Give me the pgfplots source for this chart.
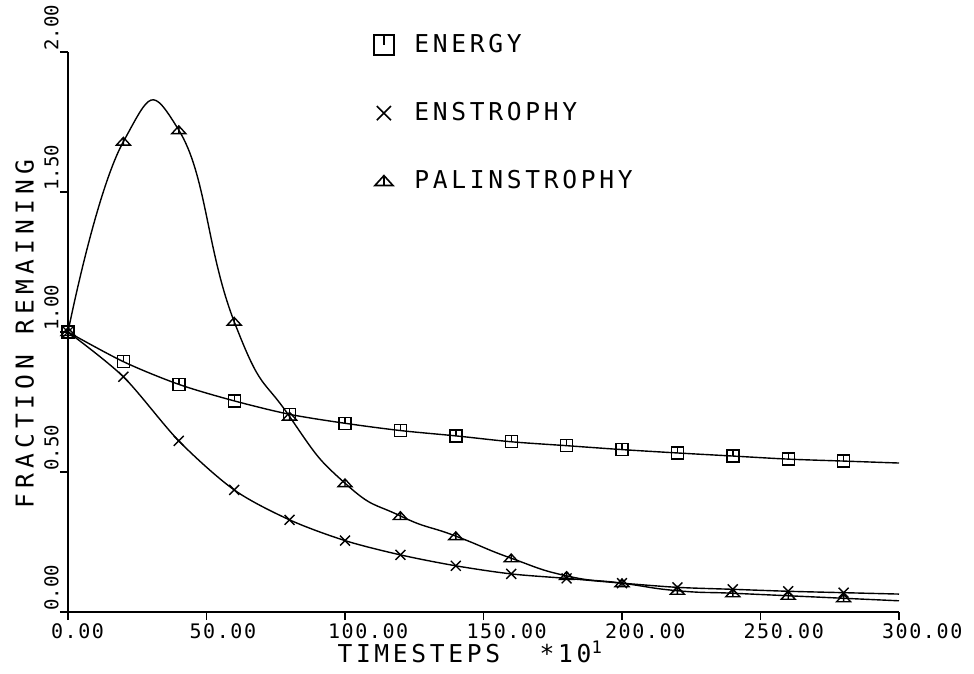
\documentclass[border=0pt]{standalone}
\usepackage{fontspec}
\setmainfont{DejaVu Sans Mono}
\newfontfamily\labfont[LetterSpace=15]{DejaVu Sans Mono}
\newfontfamily\ylabfont[LetterSpace=21]{DejaVu Sans Mono}
\newfontfamily\tickfont[LetterSpace=8]{DejaVu Sans Mono}
\usepackage{pgfplots}
\pgfplotsset{compat=1.18}

% plotter style marks: square / triangle with a small vertical stroke
\pgfdeclareplotmark{sqtick}{%
  \pgfpathrectangle{\pgfpoint{-\pgfplotmarksize}{-\pgfplotmarksize}}{\pgfpoint{2\pgfplotmarksize}{2\pgfplotmarksize}}%
  \pgfpathmoveto{\pgfpoint{0pt}{\pgfplotmarksize}}%
  \pgfpathlineto{\pgfpoint{0pt}{0pt}}%
  \pgfusepathqstroke}
\pgfdeclareplotmark{tritick}{%
  \pgfpathmoveto{\pgfpoint{-\pgfplotmarksize}{-0.5\pgfplotmarksize}}%
  \pgfpathlineto{\pgfpoint{\pgfplotmarksize}{-0.5\pgfplotmarksize}}%
  \pgfpathlineto{\pgfpoint{0pt}{0.6\pgfplotmarksize}}%
  \pgfpathclose
  \pgfpathmoveto{\pgfpoint{0pt}{0.6\pgfplotmarksize}}%
  \pgfpathlineto{\pgfpoint{0pt}{-0.5\pgfplotmarksize}}%
  \pgfusepathqstroke}

\pgfplotstableread{
x     y
0     1.000
20    0.894
40    0.813
60    0.754
80    0.706
100   0.674
120   0.648
140   0.629
160   0.608
180   0.594
200   0.580
220   0.568
240   0.557
260   0.546
280   0.539
300   0.532
}\energy

\pgfplotstableread{
x     y
0     1.000
20    0.840
40    0.611
60    0.436
80    0.329
100   0.255
120   0.204
140   0.165
160   0.136
180   0.120
200   0.103
220   0.088
240   0.081
260   0.074
280   0.069
300   0.064
}\enstrophy

\pgfplotstableread{
x     y
0     1.000
20    1.680
40    1.721
60    1.037
80    0.698
100   0.460
120   0.343
140   0.271
160   0.192
180   0.129
200   0.103
220   0.076
240   0.067
260   0.058
280   0.049
300   0.040
}\palin

\begin{document}
\begin{tikzpicture}
\begin{axis}[
  scale only axis, width=415.5pt, height=280pt,
  xmin=0, xmax=300, ymin=0, ymax=2,
  axis lines*=left,
  axis line style={line width=0.8pt},
  xtick={0,50,...,300}, ytick={0,0.5,...,2},
  tick align=outside, major tick length=4pt,
  tick style={line width=0.8pt, black},
  /pgf/number format/fixed,
  /pgf/number format/fixed zerofill,
  /pgf/number format/precision=2,
  /pgf/number format/assume math mode=true,
  xticklabel style={font=\tickfont\fontsize{10}{12}\selectfont,
    anchor=north west, xshift=-12pt, yshift=1.5pt},
  yticklabel style={font=\fontsize{9.5}{11}\selectfont, rotate=90,
    anchor=south west, inner sep=0.5pt},
  xlabel={TIMESTEPS\hspace{1.6em}*10\textsuperscript{1}},
  ylabel={FRACTION REMAINING},
  xlabel style={font=\labfont\fontsize{12.3}{14}\selectfont,
    at={(axis description cs:0.484,-0.071)}, anchor=center},
  ylabel style={font=\ylabfont\fontsize{12.3}{14}\selectfont,
    at={(axis description cs:-0.052,0.496)}, anchor=center},
  legend style={draw=none, fill=none, at={(axis description cs:0.351,1.046)},
    anchor=north west, font=\labfont\fontsize{12.3}{14}\selectfont, row sep=19.3pt},
  legend cell align=left,
  legend image code/.code={\draw[#1] plot coordinates {(0.3cm,0cm)}; \path (0cm,0cm) (0.75cm,0cm);},
  every axis plot/.append style={black, line width=0.7pt},
]
\addplot[smooth, mark=sqtick, mark size=3pt, mark indices={1,...,15}, mark options={solid}, forget plot] table {\energy};
\addplot[smooth, mark=x, mark size=3.5pt, mark indices={1,...,15}, mark options={solid}, forget plot] table {\enstrophy};
\addplot[smooth, tension=0.9, mark=tritick, mark size=3.5pt, mark indices={1,...,15}, mark options={solid}, forget plot] table {\palin};

\addlegendimage{only marks, mark=sqtick, mark size=5pt, line width=0.8pt}
\addlegendentry{ENERGY}
\addlegendimage{only marks, mark=x, mark size=5pt, line width=0.8pt}
\addlegendentry{ENSTROPHY}
\addlegendimage{only marks, mark=tritick, mark size=4.5pt, line width=0.8pt}
\addlegendentry{PALINSTROPHY}
\end{axis}
\pgfresetboundingbox
\path (-34pt,-31pt) rectangle (453pt,306pt);
\end{tikzpicture}
\end{document}
